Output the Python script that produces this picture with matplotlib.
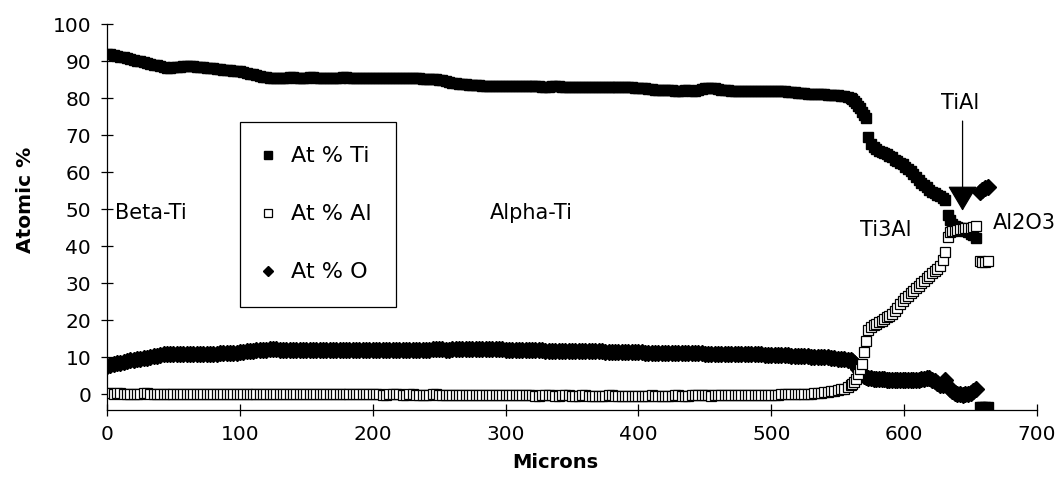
import numpy as np
import matplotlib.pyplot as plt

# microprobe line scan across the Ti / alumina reaction zone
microns = [
    0, 2.5, 5, 7.5, 10, 12.5, 15, 17.5, 20, 22.5,
    25, 27.5, 30, 32.5, 35, 37.5, 40, 42.5, 45, 47.5,
    50, 52.5, 55, 57.5, 60, 62.5, 65, 67.5, 70, 72.5,
    75, 77.5, 80, 82.5, 85, 87.5, 90, 92.5, 95, 97.5,
    100, 102.5, 105, 107.5, 110, 112.5, 115, 117.5, 120, 122.5,
    125, 127.5, 130, 132.5, 135, 137.5, 140, 142.5, 145, 147.5,
    150, 152.5, 155, 157.5, 160, 162.5, 165, 167.5, 170, 172.5,
    175, 177.5, 180, 182.5, 185, 187.5, 190, 192.5, 195, 197.5,
    200, 202.5, 205, 207.5, 210, 212.5, 215, 217.5, 220, 222.5,
    225, 227.5, 230, 232.5, 235, 237.5, 240, 242.5, 245, 247.5,
    250, 252.5, 255, 257.5, 260, 262.5, 265, 267.5, 270, 272.5,
    275, 277.5, 280, 282.5, 285, 287.5, 290, 292.5, 295, 297.5,
    300, 302.5, 305, 307.5, 310, 312.5, 315, 317.5, 320, 322.5,
    325, 327.5, 330, 332.5, 335, 337.5, 340, 342.5, 345, 347.5,
    350, 352.5, 355, 357.5, 360, 362.5, 365, 367.5, 370, 372.5,
    375, 377.5, 380, 382.5, 385, 387.5, 390, 392.5, 395, 397.5,
    400, 402.5, 405, 407.5, 410, 412.5, 415, 417.5, 420, 422.5,
    425, 427.5, 430, 432.5, 435, 437.5, 440, 442.5, 445, 447.5,
    450, 452.5, 455, 457.5, 460, 462.5, 465, 467.5, 470, 472.5,
    475, 477.5, 480, 482.5, 485, 487.5, 490, 492.5, 495, 497.5,
    500, 502.5, 505, 507.5, 510, 512.5, 515, 517.5, 520, 522.5,
    525, 527.5, 530, 532.5, 535, 537.5, 540, 542.5, 545, 547.5,
    550, 552.5, 555, 557.5, 560,
    # interface region
    561, 562.5, 564, 565.5, 567, 568.5, 570, 571.5,
    573, 575, 577, 579, 581, 583, 585, 587, 589, 591,
    593, 595, 597, 599, 601, 603, 605, 607, 609, 611,
    613, 615, 617, 619, 621, 623, 625, 627, 629, 631,
    633, 634.5, 636, 638, 640, 642, 644, 646, 648, 650, 652, 654,
    # oxide
    657, 659, 661, 663,
]

at_ti = [
    92.0, 91.8, 91.6, 91.4, 91.2, 91.0, 90.8, 90.5, 90.3, 90.1,
    89.9, 89.7, 89.5, 89.2, 89.0, 88.8, 88.6, 88.4, 88.2, 88.2,
    88.3, 88.4, 88.5, 88.6, 88.6, 88.7, 88.6, 88.5, 88.4, 88.3,
    88.2, 88.1, 88.0, 87.9, 87.8, 87.7, 87.6, 87.5, 87.4, 87.3,
    87.2, 87.0, 86.8, 86.6, 86.4, 86.2, 86.0, 85.8, 85.6, 85.5,
    85.4, 85.4, 85.5, 85.5, 85.5, 85.6, 85.6, 85.5, 85.5, 85.5,
    85.5, 85.6, 85.6, 85.5, 85.5, 85.4, 85.4, 85.5, 85.5, 85.5,
    85.5, 85.6, 85.6, 85.5, 85.5, 85.4, 85.4, 85.4, 85.4, 85.5,
    85.5, 85.4, 85.4, 85.4, 85.4, 85.5, 85.5, 85.4, 85.4, 85.3,
    85.3, 85.4, 85.4, 85.3, 85.3, 85.2, 85.2, 85.2, 85.2, 85.1,
    85.0, 84.8, 84.6, 84.4, 84.2, 84.0, 83.9, 83.8, 83.7, 83.6,
    83.5, 83.5, 83.5, 83.4, 83.4, 83.4, 83.4, 83.3, 83.3, 83.3,
    83.3, 83.3, 83.3, 83.2, 83.2, 83.2, 83.2, 83.3, 83.3, 83.2,
    83.2, 83.1, 83.1, 83.1, 83.2, 83.2, 83.2, 83.1, 83.1, 83.1,
    83.1, 83.0, 83.0, 83.0, 83.0, 83.0, 83.0, 83.1, 83.1, 83.0,
    83.0, 82.9, 82.9, 83.0, 83.0, 83.0, 83.0, 82.9, 82.9, 82.8,
    82.8, 82.7, 82.6, 82.5, 82.4, 82.3, 82.2, 82.1, 82.1, 82.1,
    82.1, 82.0, 82.0, 82.0, 82.1, 82.1, 82.0, 82.0, 82.2, 82.4,
    82.6, 82.7, 82.7, 82.6, 82.5, 82.3, 82.2, 82.1, 82.0, 82.0,
    82.0, 82.0, 81.9, 81.9, 82.0, 82.0, 82.0, 82.0, 81.9, 81.9,
    81.9, 81.8, 81.8, 81.8, 81.8, 81.7, 81.7, 81.6, 81.5, 81.4,
    81.3, 81.2, 81.2, 81.1, 81.1, 81.0, 81.0, 80.9, 80.9, 80.8,
    80.8, 80.7, 80.6, 80.3, 80.0,
    79.8, 79.3, 78.8, 78.0, 77.2, 76.3, 75.5, 74.5,
    69.5, 67.5, 66.8, 66.2, 65.8, 65.5, 65.2, 64.8, 64.4, 64.0,
    63.4, 62.9, 62.5, 62.1, 61.5, 60.9, 60.2, 59.5, 58.8, 58.0,
    57.2, 56.6, 56.0, 55.3, 54.7, 54.3, 53.9, 53.5, 53.0, 52.6,
    48.5, 47.0, 46.0, 45.5, 45.1, 44.8, 44.5, 44.2, 43.8, 43.4, 43.0, 42.2,
    -3.5, -3.5, -3.5, -3.5,
]

at_al = [
    0.3, 0.3, 0.2, 0.3, 0.3, 0.2, 0.2, 0.1, 0.1, 0.2,
    0.2, 0.3, 0.3, 0.2, 0.2, 0.2, 0.2, 0.1, 0.1, 0.2,
    0.2, 0.2, 0.2, 0.1, 0.1, 0.2, 0.2, 0.2, 0.1, 0.1,
    0.1, 0.1, 0.1, 0.2, 0.2, 0.1, 0.1, 0.1, 0.1, 0.1,
    0.1, 0.1, 0.2, 0.1, 0.1, 0.1, 0.1, 0.0, 0.0, 0.1,
    0.1, 0.1, 0.0, 0.0, 0.0, 0.1, 0.1, 0.0, 0.0, 0.0,
    0.0, 0.0, 0.1, 0.0, 0.0, 0.0, 0.0, 0.0, 0.0, 0.1,
    0.0, 0.0, 0.0, 0.0, 0.0, 0.0, 0.0, 0.0, 0.0, 0.0,
    0.0, 0.0, 0.0, -0.1, -0.1, 0.0, 0.0, 0.0, 0.0, -0.1,
    -0.1, 0.0, 0.0, -0.1, -0.1, -0.1, -0.1, -0.1, 0.0, 0.0,
    -0.1, -0.1, -0.1, -0.1, -0.1, -0.2, -0.2, -0.1, -0.1, -0.1,
    -0.1, -0.2, -0.2, -0.1, -0.1, -0.2, -0.2, -0.2, -0.2, -0.2,
    -0.2, -0.2, -0.2, -0.1, -0.1, -0.2, -0.2, -0.2, -0.2, -0.3,
    -0.3, -0.2, -0.2, -0.2, -0.2, -0.3, -0.3, -0.2, -0.2, -0.2,
    -0.3, -0.3, -0.3, -0.2, -0.2, -0.3, -0.3, -0.3, -0.3, -0.3,
    -0.3, -0.2, -0.2, -0.3, -0.3, -0.3, -0.3, -0.3, -0.3, -0.3,
    -0.3, -0.3, -0.3, -0.3, -0.2, -0.3, -0.3, -0.3, -0.3, -0.3,
    -0.3, -0.2, -0.2, -0.3, -0.3, -0.3, -0.2, -0.2, -0.2, -0.2,
    -0.2, -0.2, -0.3, -0.2, -0.2, -0.2, -0.2, -0.2, -0.2, -0.1,
    -0.1, -0.2, -0.2, -0.2, -0.1, -0.1, -0.1, -0.1, -0.1, -0.1,
    -0.1, -0.1, -0.1, 0.0, 0.0, 0.0, 0.0, 0.0, 0.1, 0.1,
    0.1, 0.2, 0.2, 0.3, 0.4, 0.5, 0.6, 0.7, 0.9, 1.0,
    1.2, 1.4, 1.6, 2.0, 2.5,
    2.8, 3.3, 4.3, 5.5, 7.0, 8.2, 11.5, 14.5,
    17.5, 18.2, 18.7, 19.1, 19.5, 19.9, 20.3, 20.8, 21.3, 21.8,
    22.5, 23.4, 24.4, 25.3, 26.0, 26.7, 27.4, 28.0, 28.7, 29.4,
    30.0, 30.7, 31.4, 32.1, 32.8, 33.4, 34.0, 34.8, 36.2, 38.5,
    42.5, 43.8, 44.0, 44.2, 44.4, 44.6, 44.7, 44.9, 45.0, 45.0, 45.2, 45.5,
    36.0, 35.8, 35.8, 36.0,
]

at_o = [
    7.8, 8.0, 8.2, 8.4, 8.6, 8.8, 9.0, 9.2, 9.3, 9.5,
    9.6, 9.8, 9.9, 10.1, 10.3, 10.5, 10.7, 10.8, 10.9, 11.0,
    11.0, 11.0, 11.0, 10.9, 10.9, 10.9, 10.8, 10.8, 10.8, 10.9,
    10.9, 10.9, 11.0, 11.0, 11.1, 11.1, 11.2, 11.2, 11.3, 11.3,
    11.4, 11.5, 11.6, 11.7, 11.8, 11.9, 12.0, 12.1, 12.1, 12.2,
    12.2, 12.2, 12.1, 12.1, 12.0, 12.0, 11.9, 11.9, 11.9, 11.9,
    11.9, 12.0, 12.0, 12.0, 12.0, 11.9, 11.9, 11.9, 11.9, 12.0,
    12.0, 12.0, 12.0, 12.1, 12.1, 12.0, 12.0, 12.0, 12.0, 12.0,
    12.0, 11.9, 11.9, 11.9, 11.9, 12.0, 12.0, 12.0, 12.0, 12.1,
    12.1, 12.1, 12.1, 12.0, 12.0, 12.1, 12.1, 12.1, 12.2, 12.2,
    12.2, 12.2, 12.1, 12.1, 12.2, 12.2, 12.3, 12.3, 12.3, 12.3,
    12.2, 12.2, 12.3, 12.3, 12.3, 12.3, 12.2, 12.2, 12.2, 12.2,
    12.1, 12.1, 12.1, 12.1, 12.0, 12.0, 12.0, 12.0, 11.9, 11.9,
    11.9, 11.9, 11.8, 11.8, 11.8, 11.8, 11.8, 11.8, 11.7, 11.7,
    11.7, 11.7, 11.7, 11.7, 11.6, 11.6, 11.6, 11.6, 11.6, 11.6,
    11.5, 11.5, 11.5, 11.5, 11.5, 11.5, 11.4, 11.4, 11.4, 11.4,
    11.4, 11.4, 11.3, 11.3, 11.3, 11.3, 11.3, 11.3, 11.2, 11.2,
    11.2, 11.2, 11.2, 11.2, 11.1, 11.1, 11.1, 11.1, 11.1, 11.1,
    11.0, 11.0, 11.0, 11.0, 11.0, 11.0, 10.9, 10.9, 10.9, 10.9,
    10.9, 10.9, 10.8, 10.8, 10.8, 10.8, 10.8, 10.8, 10.7, 10.7,
    10.7, 10.7, 10.6, 10.6, 10.6, 10.6, 10.5, 10.5, 10.4, 10.4,
    10.3, 10.3, 10.2, 10.2, 10.1, 10.1, 10.0, 10.0, 9.9, 9.8,
    9.7, 9.6, 9.5, 9.4, 9.3,
    9.0, 8.5, 7.8, 7.0, 6.2, 5.5, 5.0, 4.7,
    4.5, 4.4, 4.3, 4.3, 4.2, 4.2, 4.1, 4.0, 4.0, 4.0,
    3.9, 3.9, 3.9, 3.8, 3.8, 3.8, 3.8, 3.9, 3.9, 4.0,
    4.1, 4.3, 4.5, 4.4, 4.0, 3.5, 3.0, 2.6, 2.5, 3.8,
    2.2, 1.4, 0.9, 0.5, 0.2, 0.0, -0.1, 0.0, 0.1, 0.4, 0.8, 1.6,
    54.6, 55.3, 55.8, 56.0,
]

plt.rcParams['font.family'] = 'DejaVu Sans'

fig = plt.figure(figsize=(10.63, 4.94), dpi=100)
ax = fig.add_axes([0.1007, 0.170, 0.8748, 0.7814])

h_o, = ax.plot(microns, at_o, 'D', color='black', ms=8, label='At % O')
h_ti, = ax.plot(microns, at_ti, 's', color='black', ms=7.5, label='At % Ti')
h_al, = ax.plot(microns, at_al, 's', mfc='white', mec='black', mew=0.9,
                ms=7.5, label='At % Al')

ax.set_xlim(0, 700)
ax.set_ylim(-4.2, 100)
ax.set_xticks(range(0, 701, 100))
ax.set_yticks(range(0, 101, 10))
for side in ['top', 'right']:
    ax.spines[side].set_visible(False)
for side in ['left', 'bottom']:
    ax.spines[side].set_linewidth(0.9)
ax.tick_params(axis='both', direction='inout', length=8, width=0.9,
               labelsize=14.5)
ax.tick_params(axis='x', pad=6.5)
ax.tick_params(axis='y', pad=7.5)

ax.set_xlabel('Microns', fontsize=14, fontweight='bold')
ax.set_ylabel('Atomic %', fontsize=14.5, fontweight='bold')
ax.xaxis.set_label_coords(0.482, -0.111)
ax.yaxis.set_label_coords(-0.077, 0.544)

# phase labels
ax.text(6, 49, 'Beta-Ti', fontsize=15, va='center', ha='left')
ax.text(288, 49, 'Alpha-Ti', fontsize=15, va='center', ha='left')
ax.text(567, 44.5, 'Ti3Al', fontsize=15, va='center', ha='left')
ax.text(667, 46.2, 'Al2O3', fontsize=15, va='center', ha='left')
ax.text(642, 78.6, 'TiAl', fontsize=15, va='center', ha='center')
ax.annotate('', xy=(644, 49.6), xytext=(644, 73.8),
            arrowprops=dict(arrowstyle='-|>,head_length=1.6,head_width=0.95',
                            mutation_scale=10, color='black', lw=0.9,
                            shrinkA=0, shrinkB=0))

leg = ax.legend(handles=[h_ti, h_al, h_o], loc='upper left',
                bbox_to_anchor=(240 / 1063, 1 - 122 / 494),
                bbox_transform=fig.transFigure, fontsize=16,
                borderpad=1.1, handlelength=0.32, handletextpad=0.86,
                labelspacing=1.71, borderaxespad=0, fancybox=False,
                framealpha=1, markerscale=0.7)
leg.get_frame().set_edgecolor('black')
leg.get_frame().set_linewidth(0.9)

fig.savefig('out.png', dpi=100)
